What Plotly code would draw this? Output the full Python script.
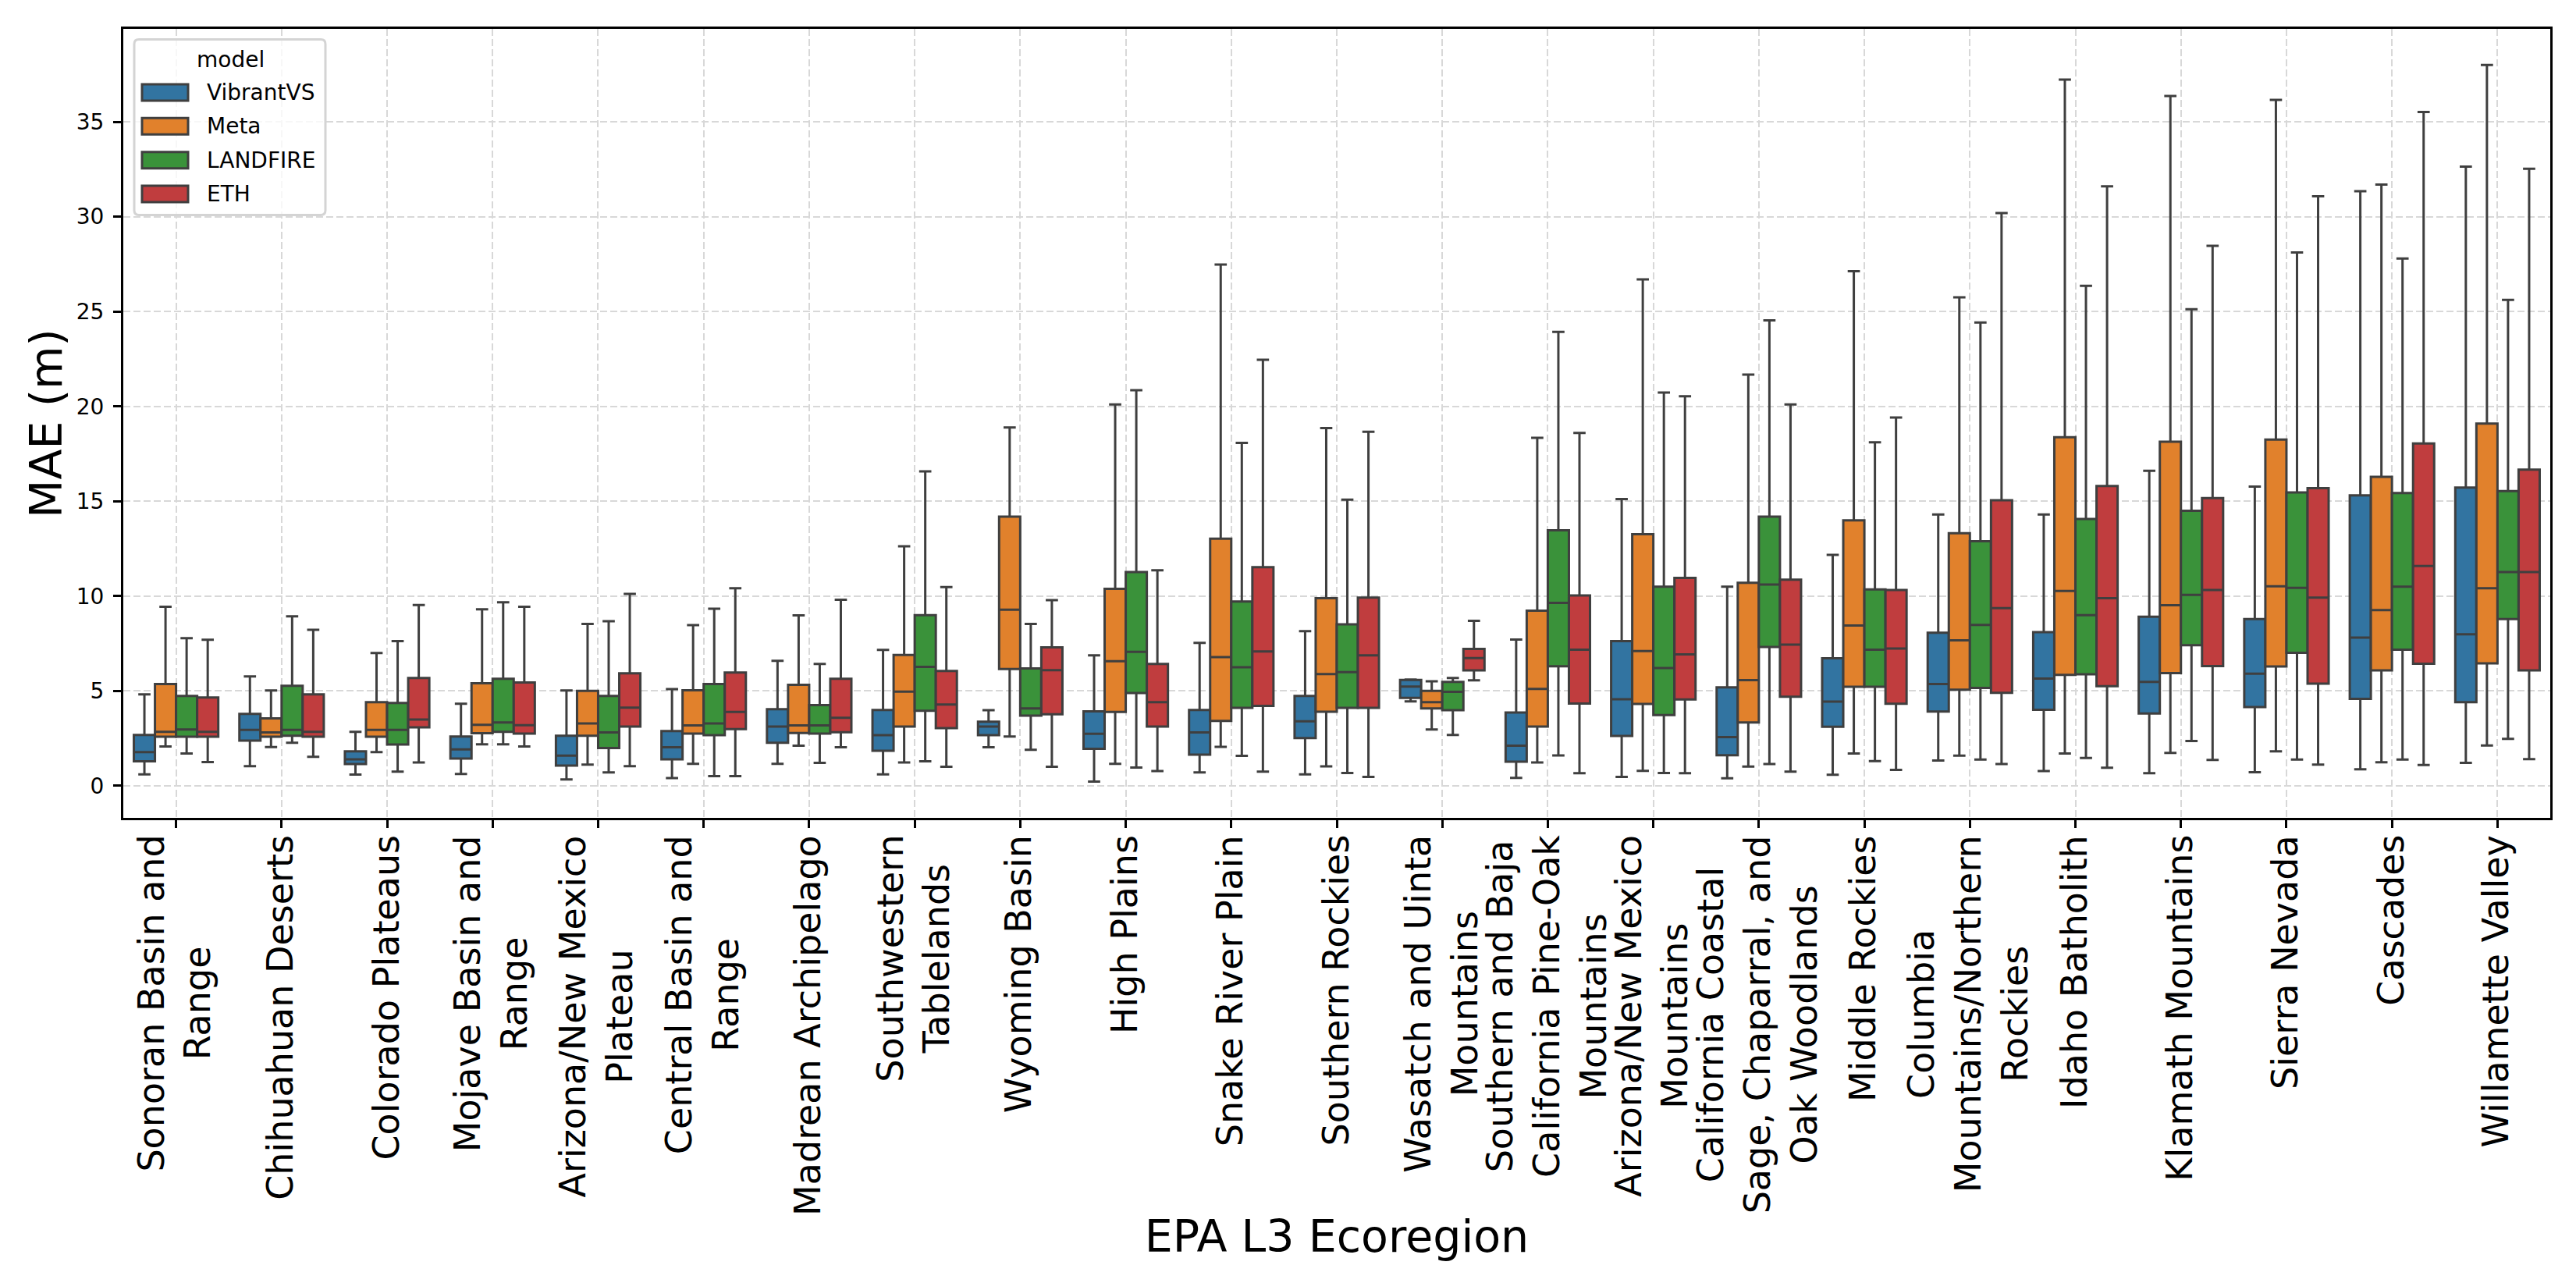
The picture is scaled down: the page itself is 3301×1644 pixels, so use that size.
import plotly.graph_objects as go

# data, order: left to right along the x axis
ecoregions = [
    "Sonoran Basin and Range", "Chihuahuan Deserts", "Colorado Plateaus", "Mojave Basin and Range",
    "Arizona/New Mexico Plateau", "Central Basin and Range", "Madrean Archipelago", "Southwestern Tablelands",
    "Wyoming Basin", "High Plains", "Snake River Plain", "Southern Rockies", "Wasatch and Uinta Mountains",
    "Southern and Baja California Pine-Oak Mountains", "Arizona/New Mexico Mountains",
    "California Coastal Sage, Chaparral, and Oak Woodlands", "Middle Rockies",
    "Columbia Mountains/Northern Rockies", "Idaho Batholith", "Klamath Mountains", "Sierra Nevada",
    "Cascades", "Willamette Valley",
]
tick_labels = [
    "Sonoran Basin and<br>Range", "Chihuahuan Deserts", "Colorado Plateaus", "Mojave Basin and<br>Range",
    "Arizona/New Mexico<br>Plateau", "Central Basin and<br>Range", "Madrean Archipelago", "Southwestern<br>Tablelands",
    "Wyoming Basin", "High Plains", "Snake River Plain", "Southern Rockies", "Wasatch and Uinta<br>Mountains",
    "Southern and Baja<br>California Pine-Oak<br>Mountains", "Arizona/New Mexico<br>Mountains",
    "California Coastal<br>Sage, Chaparral, and<br>Oak Woodlands", "Middle Rockies",
    "Columbia<br>Mountains/Northern<br>Rockies", "Idaho Batholith", "Klamath Mountains", "Sierra Nevada",
    "Cascades", "Willamette Valley",
]
y_ticks = [0, 5, 10, 15, 20, 25, 30, 35]

vib_upper = [4.82, 5.77, 2.85, 4.33, 5.03, 5.10, 6.59, 7.16, 3.99, 6.88, 7.53, 8.15, 5.60, 7.71, 15.11, 10.50, 12.17, 14.30, 14.30, 16.61, 15.77, 31.34, 32.64]
vib_q3 = [2.68, 3.79, 1.82, 2.60, 2.64, 2.89, 4.04, 4.00, 3.38, 3.93, 4.00, 4.74, 5.58, 3.86, 7.63, 5.19, 6.72, 8.07, 8.10, 8.91, 8.79, 15.31, 15.72]
vib_med = [1.78, 2.95, 1.40, 1.92, 1.59, 2.03, 3.12, 2.67, 3.12, 2.74, 2.81, 3.40, 5.23, 2.12, 4.56, 2.57, 4.44, 5.36, 5.65, 5.48, 5.91, 7.81, 7.99]
vib_q1 = [1.29, 2.38, 1.15, 1.44, 1.07, 1.40, 2.27, 1.85, 2.67, 1.95, 1.64, 2.52, 4.63, 1.27, 2.63, 1.61, 3.11, 3.92, 4.01, 3.81, 4.15, 4.58, 4.41]
vib_lower = [0.60, 1.04, 0.59, 0.62, 0.34, 0.41, 1.16, 0.60, 2.03, 0.22, 0.71, 0.60, 4.45, 0.42, 0.47, 0.40, 0.58, 1.33, 0.78, 0.66, 0.72, 0.87, 1.21]

meta_upper = [9.44, 5.03, 7.00, 9.30, 8.53, 8.47, 8.99, 12.63, 18.89, 20.10, 27.48, 18.86, 5.51, 18.34, 26.70, 21.68, 27.13, 25.75, 37.23, 36.36, 36.16, 31.69, 38.00]
meta_q3 = [5.37, 3.55, 4.41, 5.41, 5.00, 5.04, 5.32, 6.90, 14.19, 10.38, 13.03, 9.89, 5.00, 9.23, 13.26, 10.70, 13.99, 13.32, 18.37, 18.14, 18.25, 16.29, 19.09]
meta_med = [2.85, 2.81, 2.95, 3.22, 3.29, 3.18, 3.18, 4.96, 9.28, 6.57, 6.78, 5.89, 4.41, 5.11, 7.10, 5.57, 8.45, 7.67, 10.27, 9.52, 10.52, 9.26, 10.41]
meta_q1 = [2.59, 2.59, 2.59, 2.77, 2.64, 2.75, 2.78, 3.12, 6.16, 3.89, 3.42, 3.90, 4.08, 3.12, 4.32, 3.34, 5.22, 5.07, 5.85, 5.94, 6.29, 6.08, 6.46]
meta_lower = [2.07, 2.04, 1.78, 2.19, 1.12, 1.16, 2.12, 1.23, 2.60, 1.16, 2.05, 1.03, 2.97, 1.23, 0.79, 1.01, 1.70, 1.59, 1.70, 1.73, 1.82, 1.24, 2.13]

lf_upper = [7.78, 8.93, 7.63, 9.67, 8.68, 9.33, 6.42, 16.58, 8.53, 20.85, 18.08, 15.08, 5.68, 23.93, 20.73, 24.54, 18.11, 24.42, 26.36, 25.12, 28.11, 27.80, 25.61]
lf_q3 = [4.74, 5.27, 4.37, 5.64, 4.74, 5.37, 4.25, 9.00, 6.19, 11.27, 9.72, 8.51, 5.48, 13.47, 10.50, 14.19, 10.35, 12.89, 14.07, 14.50, 15.46, 15.43, 15.54]
lf_med = [2.97, 2.95, 2.95, 3.34, 2.81, 3.29, 3.18, 6.27, 4.08, 7.06, 6.25, 5.99, 4.95, 9.64, 6.21, 10.61, 7.18, 8.48, 9.00, 10.06, 10.44, 10.50, 11.27]
lf_q1 = [2.59, 2.64, 2.18, 2.85, 1.99, 2.67, 2.75, 3.96, 3.70, 4.89, 4.11, 4.11, 3.99, 6.30, 3.73, 7.32, 5.22, 5.16, 5.88, 7.41, 7.01, 7.18, 8.79]
lf_lower = [1.70, 2.27, 0.75, 2.19, 0.71, 0.51, 1.21, 1.29, 1.90, 0.96, 1.58, 0.68, 2.68, 1.60, 0.68, 1.15, 1.30, 1.38, 1.47, 2.36, 1.38, 1.38, 2.48]

eth_upper = [7.70, 8.22, 9.53, 9.44, 10.12, 10.41, 9.81, 10.48, 9.79, 11.36, 22.46, 18.66, 8.70, 18.60, 20.53, 20.10, 19.41, 30.19, 31.60, 28.46, 31.08, 35.52, 32.53]
eth_q3 = [4.66, 4.82, 5.68, 5.45, 5.93, 5.97, 5.64, 6.05, 7.30, 6.42, 11.53, 9.92, 7.22, 10.03, 10.96, 10.87, 10.32, 15.05, 15.80, 15.17, 15.69, 18.05, 16.67]
eth_med = [2.85, 2.85, 3.49, 3.19, 4.12, 3.89, 3.59, 4.29, 6.10, 4.41, 7.08, 6.88, 6.73, 7.18, 6.93, 7.44, 7.24, 9.37, 9.89, 10.32, 9.92, 11.59, 11.27]
eth_q1 = [2.59, 2.59, 3.08, 2.75, 3.12, 2.99, 2.82, 3.04, 3.77, 3.12, 4.21, 4.11, 6.08, 4.34, 4.55, 4.70, 4.33, 4.90, 5.25, 6.31, 5.39, 6.43, 6.08]
eth_lower = [1.25, 1.53, 1.23, 2.07, 1.04, 0.51, 2.03, 1.00, 1.00, 0.78, 0.75, 0.47, 5.56, 0.67, 0.67, 0.75, 0.84, 1.15, 0.95, 1.36, 1.12, 1.10, 1.41]

models = ["VibrantVS", "Meta", "LANDFIRE", "ETH"]
colors = ["#3274a1", "#e1812c", "#3a923a", "#c03d3e"]
stats = [
    (vib_lower, vib_q1, vib_med, vib_q3, vib_upper),
    (meta_lower, meta_q1, meta_med, meta_q3, meta_upper),
    (lf_lower, lf_q1, lf_med, lf_q3, lf_upper),
    (eth_lower, eth_q1, eth_med, eth_q3, eth_upper),
]

# page and axes size in pixels
W, H = 3301, 1644
LEFT, RIGHT, TOP, BOTTOM = 158, 3268, 36.5, 1048
EDGE = "#3f3f3f"
FONT = "DejaVu Sans"


def px(x):
    return (x - LEFT) / (RIGHT - LEFT)


def py(y):
    return (BOTTOM - y) / (BOTTOM - TOP)


fig = go.Figure()
for name, color, (low, q1, med, q3, up) in zip(models, colors, stats):
    fig.add_trace(go.Box(
        x=ecoregions, name=name, lowerfence=low, q1=q1, median=med, q3=q3, upperfence=up,
        fillcolor=color, line=dict(color=EDGE, width=3), whiskerwidth=0.58,
        boxpoints=False, showlegend=False,
    ))

# x labels are annotations so wrapped lines stay centred like the original
annotations = [
    dict(x=cat, y=0, xref="x", yref="paper", yanchor="top", xanchor="center", yshift=-20, xshift=-2,
         text=label, textangle=-90, showarrow=False, align="center",
         font=dict(family=FONT, size=46, color="black"))
    for cat, label in zip(ecoregions, tick_labels)
]

# legend drawn by hand, plotly's own box swatches are too small
x0, x1, y0, y1, r = px(172), px(417), py(50), py(275), 6
rx, ry = r / (RIGHT - LEFT), r / (BOTTOM - TOP)
frame = (f"M{x0 + rx},{y0} L{x1 - rx},{y0} Q{x1},{y0} {x1},{y0 - ry} L{x1},{y1 + ry} Q{x1},{y1} {x1 - rx},{y1} "
         f"L{x0 + rx},{y1} Q{x0},{y1} {x0},{y1 + ry} L{x0},{y0 - ry} Q{x0},{y0} {x0 + rx},{y0} Z")
shapes = [dict(type="path", path=frame, xref="paper", yref="paper",
               fillcolor="rgba(255,255,255,0.8)", line=dict(color="#d4d4d4", width=3))]
annotations.append(dict(x=px(295), y=py(76), xref="paper", yref="paper", text="model", showarrow=False,
                        xanchor="center", yanchor="middle", font=dict(family=FONT, size=28, color="black")))
for i, (name, color) in enumerate(zip(models, colors)):
    yc = 118 + i * 43.4
    shapes.append(dict(type="rect", xref="paper", yref="paper", x0=px(182), x1=px(241),
                       y0=py(yc - 10.5), y1=py(yc + 10.5), fillcolor=color, line=dict(color=EDGE, width=3)))
    annotations.append(dict(x=px(263), y=py(yc), xref="paper", yref="paper", text=name, xanchor="left",
                            yanchor="middle", showarrow=False, font=dict(family=FONT, size=28, color="black")))

grid = dict(showgrid=True, gridcolor="#d8d8d8", gridwidth=2, griddash="9px,4px", zeroline=False,
            showline=True, linecolor="black", linewidth=3, mirror=True,
            ticks="outside", ticklen=10, tickwidth=2.5, tickcolor="black")

fig.update_layout(
    width=W, height=H, autosize=False, paper_bgcolor="white", plot_bgcolor="white",
    margin=dict(l=LEFT, r=W - RIGHT, t=TOP, b=H - BOTTOM, pad=0),
    boxmode="group", boxgap=0.2, boxgroupgap=0, showlegend=False,
    font=dict(family=FONT, color="black"), annotations=annotations, shapes=shapes,
    xaxis=dict(grid, type="category", categoryorder="array", categoryarray=ecoregions,
               range=[-0.5, 22.5], showticklabels=False,
               title=dict(text="EPA L3 Ecoregion", font=dict(family=FONT, size=57), standoff=505)),
    yaxis=dict(grid, range=[-1.69, 39.9], tickvals=y_ticks, tickfont=dict(family=FONT, size=28),
               ticklabelstandoff=6, title=dict(text="MAE (m)", font=dict(family=FONT, size=57), standoff=0)),
)

fig.write_html("out.html", config=dict(displayModeBar=False), post_script="document.body.style.margin='0';")
